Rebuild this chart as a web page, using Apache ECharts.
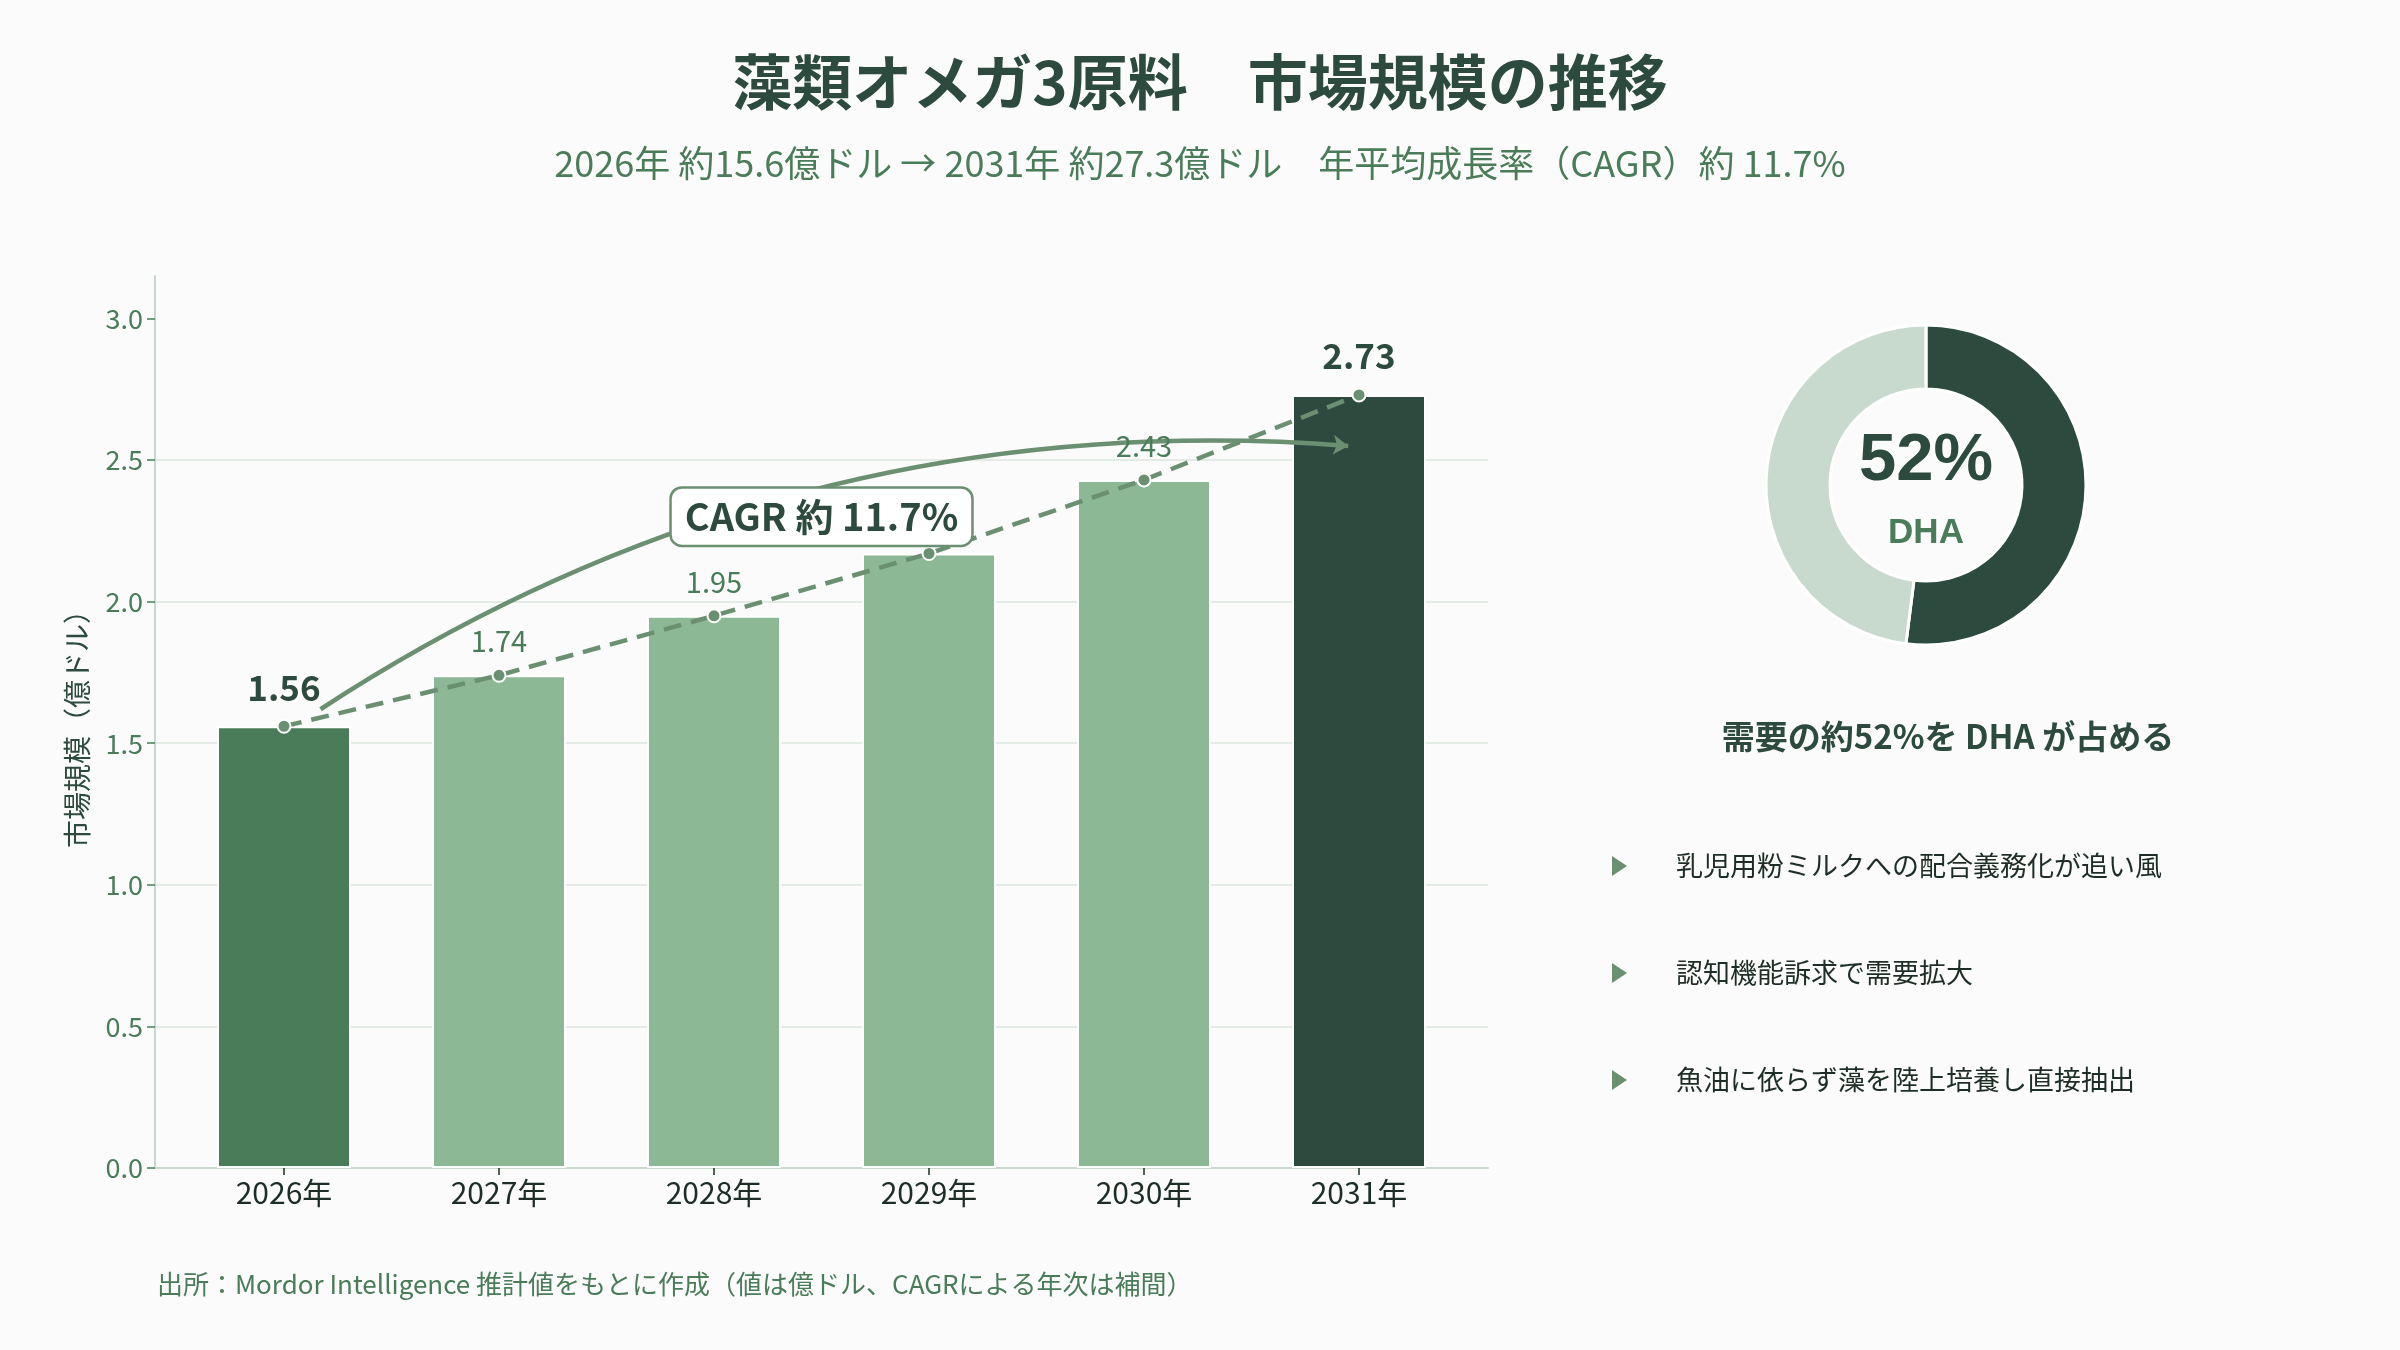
<!DOCTYPE html>
<html>
<head>
<meta charset="utf-8">
<title>藻類オメガ3原料 市場規模の推移</title>
<script src="https://cdn.jsdelivr.net/npm/echarts@6/dist/echarts.min.js"></script>
<style>
    html, body { margin: 0; padding: 0; background: #fafbfa; }
    #main { width: 2400px; height: 1350px; }
</style>
</head>
<body>
<div id="main"></div>
<script>
    // データ
    var years = ['2026年', '2027年', '2028年', '2029年', '2030年', '2031年'];
    var marketSize = [1.56, 1.74, 1.95, 2.17, 2.43, 2.73];
    var yTicks = [0, 0.5, 1.0, 1.5, 2.0, 2.5, 3.0];
    var shareNames = ['DHA', 'その他'];
    var shareValues = [52, 48];
    var bullets = ['乳児用粉ミルクへの配合義務化が追い風', '認知機能訴求で需要拡大', '魚油に依らず藻を陸上培養し直接抽出'];
    // 注釈（データ座標）
    var arrowFrom = [0.17, 1.62];
    var arrowTo = [4.95, 2.55];
    var cagrBoxAt = [2.5, 2.3];
    var cagrText = 'CAGR 約 11.7%';

    var FONT = '"Noto Sans CJK JP", "Noto Sans", sans-serif';
    var dark = '#2d4a3e', mid = '#4a7c59', light = '#8cb896', line = '#6b8f71';

    var idx = years.map(function (y, i) { return i; });

    var barData = marketSize.map(function (v, i) {
        var c = light;
        if (i === 0) c = mid;
        if (i === marketSize.length - 1) c = dark;
        return { value: [i, v], itemStyle: { color: c } };
    });

    var lineData = marketSize.map(function (v, i) {
        var big = (i === 0 || i === marketSize.length - 1);
        return {
            value: [i, v],
            label: big ? { fontSize: 35, fontWeight: 'bold', color: dark, distance: 14 }
                       : { fontSize: 29, color: mid, distance: 12 }
        };
    });

    var graphics = [
        {
            type: 'text', left: 'center', top: 52,
            style: { text: '藻類オメガ3原料　市場規模の推移', font: 'bold 60px ' + FONT, fill: dark }
        },
        {
            type: 'text', left: 'center', top: 145,
            style: { text: '2026年 約15.6億ドル → 2031年 約27.3億ドル　年平均成長率（CAGR）約 11.7%', font: '36px ' + FONT, fill: mid }
        },
        {
            type: 'text', x: 1926, y: 462,
            style: { text: shareValues[0] + '%', font: 'bold 67px "Liberation Sans", Arial, sans-serif', fill: dark, textAlign: 'center', textVerticalAlign: 'middle' }
        },
        {
            type: 'text', x: 1926, y: 533,
            style: { text: shareNames[0], font: 'bold 35px "Liberation Sans", Arial, sans-serif', fill: mid, textAlign: 'center', textVerticalAlign: 'middle' }
        },
        {
            type: 'text', x: 1948, y: 736,
            style: { text: '需要の約' + shareValues[0] + '%を DHA が占める', font: 'bold 33px ' + FONT, fill: dark, textAlign: 'center', textVerticalAlign: 'middle' }
        },
        {
            type: 'text', left: 157, top: 1271,
            style: { text: '出所：Mordor Intelligence 推計値をもとに作成（値は億ドル、CAGRによる年次は補間）', font: '26px ' + FONT, fill: mid }
        }
    ];
    bullets.forEach(function (b, i) {
        var cy = 866 + i * 107;
        graphics.push({
            type: 'polygon',
            shape: { points: [[1612, cy - 10], [1612, cy + 10], [1627, cy]] },
            style: { fill: line }
        });
        graphics.push({
            type: 'text', x: 1676, y: cy,
            style: { text: b, font: '27px ' + FONT, fill: '#1e2e26', textVerticalAlign: 'middle' }
        });
    });

    var myChart = echarts.init(document.getElementById('main'));
    myChart.setOption({
        animation: false,
        backgroundColor: '#fafbfa',
        textStyle: { fontFamily: FONT },
        grid: { left: 155, right: 912, top: 276, bottom: 182 },
        xAxis: {
            type: 'value',
            min: -0.6,
            max: years.length - 0.4,
            splitLine: { show: false },
            axisLine: { show: true, onZero: false, lineStyle: { color: '#c8d8cc', width: 2 } },
            axisTick: { show: true, customValues: idx, length: 7, lineStyle: { color: '#1e2e26', width: 1.5 } },
            axisLabel: {
                customValues: idx,
                formatter: function (v) { return years[Math.round(v)] || ''; },
                fontSize: 30, color: '#1e2e26', margin: 10
            }
        },
        yAxis: {
            type: 'value',
            min: 0,
            max: 3.15,
            interval: 0.5,
            name: '市場規模（億ドル）',
            nameLocation: 'middle',
            nameGap: 64,
            nameTextStyle: { fontSize: 28, color: dark },
            axisLine: { show: true, onZero: false, lineStyle: { color: '#c8d8cc', width: 2 } },
            axisTick: { show: true, customValues: yTicks, length: 8, lineStyle: { color: mid, width: 1.5 } },
            axisLabel: {
                customValues: yTicks,
                fontSize: 27, color: mid, margin: 12,
                formatter: function (v) { return v.toFixed(1); }
            },
            splitLine: { showMaxLine: false, lineStyle: { color: '#e3ebe5', width: 2 } }
        },
        series: [
            {
                type: 'bar',
                data: barData,
                barWidth: 134,
                itemStyle: { borderColor: '#ffffff', borderWidth: 2 },
                z: 2
            },
            {
                type: 'lines',
                coordinateSystem: 'cartesian2d',
                data: [{ coords: [arrowFrom, arrowTo] }],
                symbol: ['none', 'arrow'],
                symbolSize: 15,
                lineStyle: { color: line, width: 4.5, curveness: 0.17, opacity: 1 },
                z: 3
            },
            {
                type: 'line',
                data: lineData,
                lineStyle: { color: line, width: 4.5, type: [18, 10] },
                itemStyle: { color: line, borderColor: '#ffffff', borderWidth: 2 },
                symbol: 'circle',
                symbolSize: 13,
                label: { show: true, position: 'top', formatter: function (p) { return p.value[1].toFixed(2); } },
                z: 4
            },
            {
                type: 'pie',
                center: [1926, 485],
                radius: [96, 160],
                startAngle: 90,
                clockwise: true,
                label: { show: false },
                labelLine: { show: false },
                itemStyle: { borderColor: '#ffffff', borderWidth: 3 },
                data: shareNames.map(function (n, i) {
                    return { name: n, value: shareValues[i], itemStyle: { color: i === 0 ? dark : '#c8dace' } };
                })
            }
        ],
        graphic: graphics
    });

    // CAGRラベルの位置はデータ座標から換算
    var p = myChart.convertToPixel({ gridIndex: 0 }, cagrBoxAt);
    graphics.push({
        type: 'text', x: p[0], y: p[1], z: 100,
        style: {
            text: cagrText, font: 'bold 38px ' + FONT, fill: dark,
            textAlign: 'center', textVerticalAlign: 'middle',
            backgroundColor: '#ffffff', borderColor: line, borderWidth: 2.5, borderRadius: 10,
            padding: [9, 13]
        }
    });
    myChart.setOption({ graphic: graphics });
</script>
</body>
</html>
